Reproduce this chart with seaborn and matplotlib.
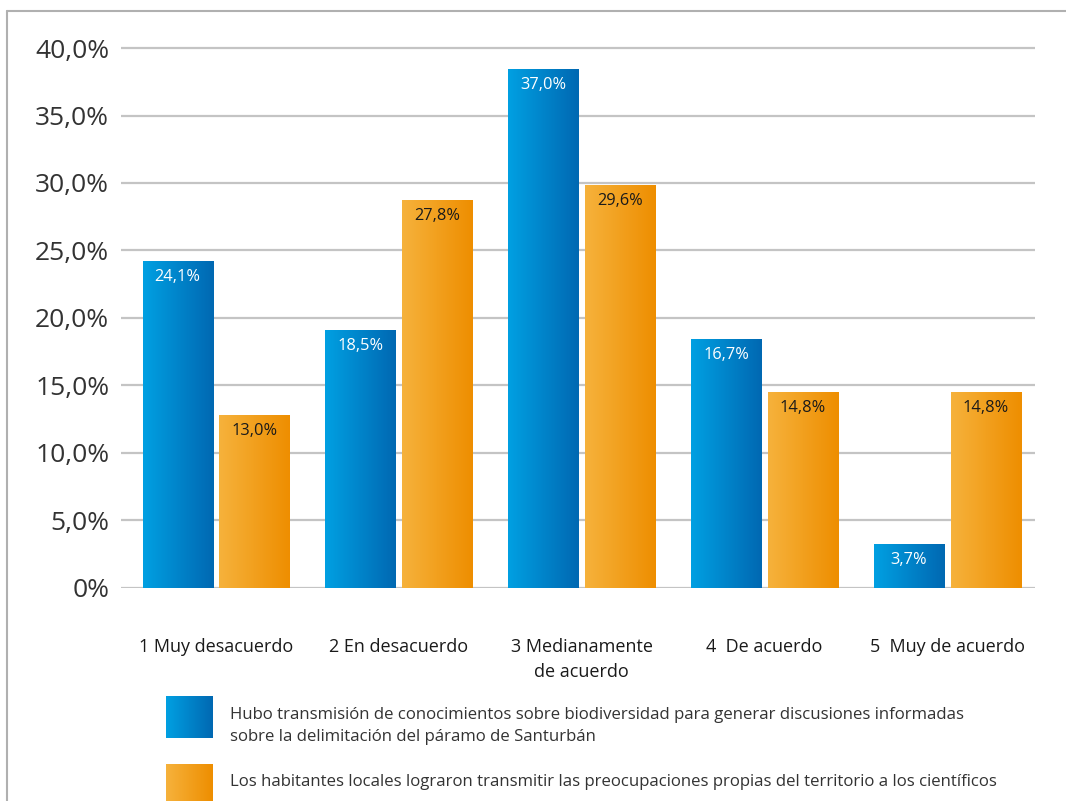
import numpy as np
import pandas as pd
import matplotlib
matplotlib.use("Agg")
import matplotlib.pyplot as plt
import seaborn as sns
from matplotlib.colors import LinearSegmentedColormap
from matplotlib.lines import Line2D

# ---- data ----
categories = ["1 Muy desacuerdo", "2 En desacuerdo", "3 Medianamente\nde acuerdo",
              "4  De acuerdo", "5  Muy de acuerdo"]
series_names = [
    "Hubo transmisión de conocimientos sobre biodiversidad para generar discusiones informadas\nsobre la delimitación del páramo de Santurbán",
    "Los habitantes locales lograron transmitir las preocupaciones propias del territorio a los científicos",
]
blue_values = [24.2, 19.1, 38.4, 18.4, 3.2]
orange_values = [12.8, 28.7, 29.8, 14.5, 14.5]
blue_labels = ["24,1%", "18,5%", "37,0%", "16,7%", "3,7%"]
orange_labels = ["13,0%", "27,8%", "29,6%", "14,8%", "14,8%"]
yticks = [0, 5, 10, 15, 20, 25, 30, 35, 40]
ytick_labels = ["0%", "5,0%", "10,0%", "15,0%", "20,0%", "25,0%", "30,0%", "35,0%", "40,0%"]

df = pd.DataFrame({
    "cat": categories * 2,
    "serie": [series_names[0]] * 5 + [series_names[1]] * 5,
    "val": blue_values + orange_values,
})

sns.set_theme(style="white")
plt.rcParams["font.family"] = ["Open Sans", "DejaVu Sans"]

W, H = 1066, 801
fig = plt.figure(figsize=(W / 100, H / 100), dpi=100)
ax = fig.add_axes([121 / W, (H - 587.7) / H, (1035 - 121) / W, (587.7 - 41.3) / H])

blue_c = "#0a87d2"
orange_c = "#f2a22a"
sns.barplot(data=df, x="cat", y="val", hue="serie", order=categories,
            hue_order=series_names, palette=[blue_c, orange_c],
            width=0.84, gap=0.085, ax=ax, legend=False, linewidth=0)

ax.set_xlim(-0.52, 4.48)
ax.set_ylim(0, 40.5)
ax.set_yticks(yticks)
ax.set_yticklabels(ytick_labels, fontsize=19, color="#333333")
ax.yaxis.grid(True, color="#c4c4c4", linewidth=1.6)
ax.set_axisbelow(True)
for s in ax.spines.values():
    s.set_visible(False)
ax.tick_params(axis="y", length=0, pad=8.5)
ax.tick_params(axis="x", length=0, pad=36)
ax.set_xticks(range(len(categories)))
ax.set_xticklabels(categories, fontsize=13, color="#1a1a1a", linespacing=1.55, va="top")
ax.set_xlabel("")
ax.set_ylabel("")

blue_cmap = LinearSegmentedColormap.from_list("b", ["#00a0e2", "#0068b2"])
orange_cmap = LinearSegmentedColormap.from_list("o", ["#f6b23c", "#ee8e00"])
grad = np.linspace(0, 1, 256).reshape(1, -1)

patches = sorted(ax.patches, key=lambda p: p.get_x())
for p in patches:
    x0, w, h = p.get_x(), p.get_width(), p.get_height()
    if h <= 0:
        continue
    fc = p.get_facecolor()
    is_blue = fc[2] > fc[0]
    cmap = blue_cmap if is_blue else orange_cmap
    ax.imshow(grad, cmap=cmap, extent=[x0, x0 + w, 0, h], aspect="auto", zorder=p.get_zorder() + 0.1)
    idx = int(round(x0 + w / 2))
    label = blue_labels[idx] if is_blue else orange_labels[idx]
    ax.text(x0 + w / 2, h - 1.15, label, ha="center", va="center", fontsize=11.8,
            color="white" if is_blue else "#1a1a1a", zorder=5)
ax.set_xlim(-0.52, 4.48)
ax.set_ylim(0, 40.5)

# legend (drawn manually)
lax = fig.add_axes([166 / W, 0, 47 / W, 1], facecolor="none")
lax.set_axis_off()
lax.imshow(grad, cmap=blue_cmap, extent=[0, 1, (H - 738) / H, (H - 697) / H], aspect="auto")
lax.imshow(grad, cmap=orange_cmap, extent=[0, 1, (H - 805) / H, (H - 764) / H], aspect="auto")
lax.set_xlim(0, 1)
lax.set_ylim(0, 1)
fig.text(230 / W, (H - 726) / H, series_names[0], fontsize=12.1, color="#333333",
         va="center", ha="left", linespacing=1.45)
fig.text(230 / W, (H - 782) / H, series_names[1], fontsize=12.1, color="#333333",
         va="center", ha="left")

# image frame
fig.add_artist(Line2D([7 / W, 1.0], [(H - 11) / H] * 2, transform=fig.transFigure,
                      color="#b0b0b0", linewidth=1.5))
fig.add_artist(Line2D([7 / W] * 2, [0, (H - 11) / H], transform=fig.transFigure,
                      color="#b0b0b0", linewidth=1.5))

fig.savefig("out.png", dpi=100, facecolor="white")
